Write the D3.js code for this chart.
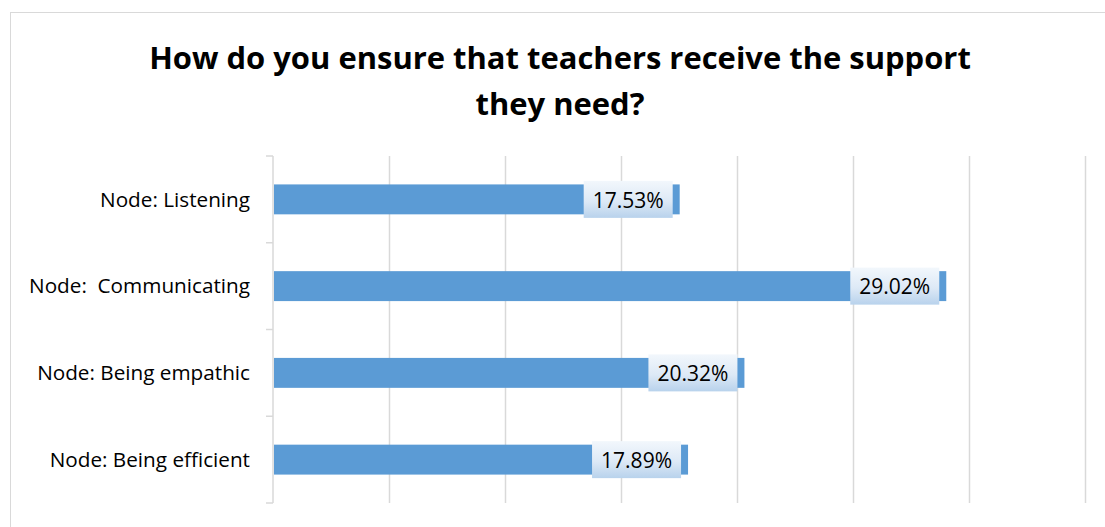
<!DOCTYPE html>
<html>
<head>
<meta charset="utf-8">
<script src="https://cdn.jsdelivr.net/npm/d3@7"></script>
<style>
  html, body { margin: 0; padding: 0; background: #fff; }
  svg { display: block; font-family: "Open Sans", Lato, sans-serif; }
</style>
</head>
<body>
<svg id="chart" width="1105" height="527"></svg>
<script>
// Survey responses: share of coded references per node
const categories = ["Node: Listening", "Node:  Communicating", "Node: Being empathic", "Node: Being efficient"];
const values = [17.53, 29.02, 20.32, 17.89];
const xTicks = [0, 5, 10, 15, 20, 25, 30, 35];
const titleLines = ["How do you ensure that teachers receive the support", "they need?"];

const svg = d3.select("#chart");

// Pick a font size so that a sample string renders at the wanted width
function fitSize(sample, weight, width) {
  const t = svg.append("text").attr("font-size", 100).attr("font-weight", weight)
    .style("white-space", "pre").text(sample);
  const w = t.node().getComputedTextLength();
  t.remove();
  return 100 * width / w;
}
const titleSize = fitSize(titleLines[0], "bold", 822);
const catSize = fitSize(categories[0], "normal", 150);
const valSize = fitSize("17.53%", "normal", 71);

// Outer chart frame
svg.append("rect")
  .attr("x", 10.5).attr("y", 12.5)
  .attr("width", 1110).attr("height", 530)
  .attr("fill", "#fff").attr("stroke", "#d9d9d9").attr("stroke-width", 1);

// Title
svg.append("text")
  .attr("text-anchor", "middle")
  .attr("font-size", titleSize).attr("font-weight", "bold").attr("fill", "#000")
  .selectAll("tspan").data(titleLines).join("tspan")
  .attr("x", 560).attr("y", (d, i) => 68.5 + i * 46)
  .text(d => d);

const x = d3.scaleLinear().domain([0, 35]).range([273, 1085]);
const bandOuter = d3.scaleBand().domain(categories).range([156, 503]);
const y = d3.scaleBand().domain(categories).range([156, 503]).paddingInner(0.655).paddingOuter(0.3275);

// Vertical gridlines
svg.append("g")
  .selectAll("line").data(xTicks.slice(1)).join("line")
  .attr("x1", d => x(d) + 0.5).attr("x2", d => x(d) + 0.5)
  .attr("y1", 156).attr("y2", 503)
  .attr("stroke", "#d9d9d9").attr("stroke-width", 1.5);

// Category axis with tick marks between bands
const axisG = svg.append("g");
axisG.append("line")
  .attr("x1", 273).attr("x2", 273).attr("y1", 156).attr("y2", 503)
  .attr("stroke", "#d9d9d9").attr("stroke-width", 1.5);
const tickYs = categories.map(c => bandOuter(c)).concat([503]);
axisG.selectAll("line.tick").data(tickYs).join("line")
  .attr("class", "tick")
  .attr("x1", 266).attr("x2", 273)
  .attr("y1", d => d).attr("y2", d => d)
  .attr("stroke", "#d9d9d9").attr("stroke-width", 1.5);
axisG.selectAll("text").data(categories).join("text")
  .attr("x", 250)
  .attr("y", d => bandOuter(d) + bandOuter.bandwidth() / 2)
  .attr("dy", "0.35em")
  .attr("text-anchor", "end")
  .attr("font-size", catSize).attr("fill", "#000")
  .style("white-space", "pre")
  .text(d => d);

// Bars
svg.append("g").selectAll("rect").data(values).join("rect")
  .attr("x", x(0) + 1)
  .attr("y", (d, i) => y(categories[i]))
  .attr("width", d => x(d) - x(0) - 1)
  .attr("height", y.bandwidth())
  .attr("fill", "#5b9bd5");

// Gradient fill for value callouts
const defs = svg.append("defs");
const grad = defs.append("linearGradient").attr("id", "labelFill")
  .attr("x1", 0).attr("y1", 0).attr("x2", 0).attr("y2", 1);
grad.append("stop").attr("offset", "0%").attr("stop-color", "#f2f7fc");
grad.append("stop").attr("offset", "55%").attr("stop-color", "#dde9f6");
grad.append("stop").attr("offset", "100%").attr("stop-color", "#b8d2ec");

// Value labels
const labels = svg.append("g").selectAll("g").data(values).join("g");
labels.each(function (d, i) {
  const g = d3.select(this);
  const cy = y(categories[i]) + y.bandwidth() / 2;
  const right = x(d) - 7;
  const t = g.append("text")
    .attr("font-size", valSize).attr("fill", "#000")
    .attr("text-anchor", "middle")
    .attr("dy", "0.35em")
    .text(d.toFixed(2) + "%");
  const w = 89;
  g.insert("rect", "text")
    .attr("x", right - w).attr("y", cy - 18.5)
    .attr("width", w).attr("height", 37)
    .attr("fill", "url(#labelFill)");
  t.attr("x", right - w / 2).attr("y", cy + 1);
});
</script>
</body>
</html>
